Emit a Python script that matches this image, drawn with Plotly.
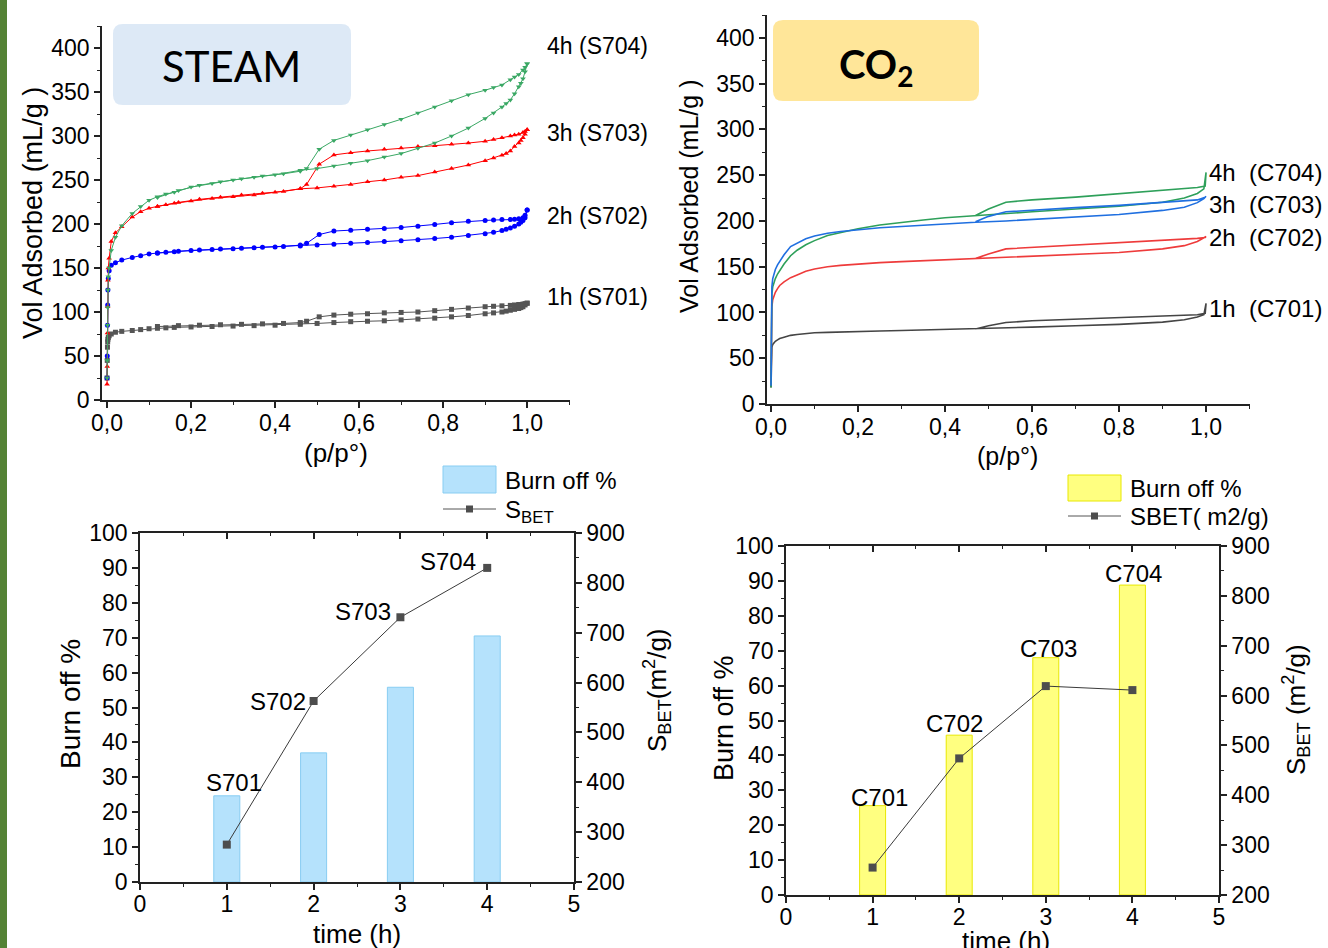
import plotly.graph_objects as go

W, H = 1328, 948
FONT = "Liberation Sans, Arial, sans-serif"

# ---------------- DATA ----------------
# STEAM isotherms (p/p0 grid for adsorption and desorption branches)
P_ADS_S = [0.0, 0.0005, 0.001, 0.0015, 0.002,
           0.003, 0.005, 0.01, 0.02, 0.035,
           0.06, 0.08, 0.10, 0.12, 0.14,
           0.16, 0.20, 0.25, 0.30, 0.35,
           0.40, 0.46, 0.50, 0.54, 0.58,
           0.62, 0.66, 0.70, 0.74, 0.78,
           0.82, 0.86, 0.90, 0.92, 0.94,
           0.95, 0.96, 0.97, 0.98, 0.985,
           0.99, 0.995, 1.0]
P_DES_S = [1.0, 0.995, 0.99, 0.98, 0.97,
           0.96, 0.94, 0.92, 0.90, 0.86,
           0.82, 0.78, 0.74, 0.70, 0.66,
           0.62, 0.58, 0.54, 0.505, 0.475,
           0.46, 0.42, 0.37, 0.32, 0.27,
           0.22, 0.17, 0.12]

S701_ADS = [25, 45, 60, 66, 69,
            71, 73, 75, 77, 78,
            79, 80, 81, 81.5, 82,
            82.5, 83, 83.5, 84, 84.5,
            85, 86, 87, 88, 89,
            89.5, 90, 91, 92, 93,
            94.5, 96, 98, 99, 100,
            101, 102, 103, 104, 105,
            106, 108, 110]
S701_DES = [110, 109.5, 109, 108.5, 108,
            107.5, 107, 106.5, 106, 104.5,
            103, 101.5, 100, 99.5, 99,
            98, 97.5, 96.5, 94.5, 89.5,
            88, 87, 86.5, 86, 85.5,
            85, 84.5, 83.5]

S702_ADS = [25, 50, 85, 108, 125,
            138, 147, 153, 156, 159,
            162, 164, 166, 167, 168,
            168.5, 170, 171, 172, 173,
            174, 175, 176, 177, 178,
            179, 180, 181, 182, 183.5,
            185, 187, 189, 190.5, 192.5,
            194, 195.5, 197.5, 200, 202,
            204, 207, 216]
S702_DES = [216, 210, 207, 206, 205.5,
            205, 205, 204.5, 204, 203,
            201.5, 199.5, 197.5, 196, 195,
            194, 193, 192, 188, 178,
            176, 174.5, 173.5, 172.5, 171.5,
            170.5, 169, 167]

S703_ADS = [18, 38, 76, 106, 136,
            150, 161, 180, 190, 197,
            208, 214, 218, 220, 222,
            223.5, 226, 229, 231, 233,
            236, 240, 241, 243, 245,
            248, 250, 253, 255, 259,
            263, 267, 272, 275, 278,
            280, 283, 288, 292, 295,
            298, 302, 307]
S703_DES = [307, 305, 304, 302, 301,
            300, 298, 296, 294, 292,
            290.5, 289, 288, 286.5, 285,
            283, 281, 278.5, 268, 245,
            240, 237, 235, 233, 230.5,
            228, 224.5, 220]

S704_ADS = [25, 45, 85, 105, 125,
            140, 150, 170, 185, 198,
            212, 220, 227, 231, 234,
            236, 242, 246, 250, 253,
            256, 261, 263, 266, 269,
            272, 276, 280, 286, 292,
            300, 309, 320, 326, 333,
            337, 341, 348, 356, 360,
            365, 373, 382]
S704_DES = [382, 378, 375, 370, 367,
            364, 358, 355, 352, 347,
            340, 333, 326, 319, 313,
            307, 301, 295, 285, 263,
            260, 257, 254.5, 251.5, 248,
            244, 238, 230]

# CO2 isotherms
P_ADS_C = [0.0, 0.0005, 0.001, 0.002, 0.004,
           0.007, 0.01, 0.015, 0.02, 0.03,
           0.045, 0.06, 0.08, 0.1, 0.13,
           0.16, 0.2, 0.25, 0.3, 0.35,
           0.4, 0.47, 0.54, 0.6, 0.7,
           0.8, 0.9, 0.95, 0.98, 0.995, 1.0]
P_DES_C = [1.0, 0.998, 0.98, 0.9, 0.8, 0.7, 0.6, 0.54, 0.5, 0.47]

C701_ADS = [18, 40, 55, 62, 65,
            67, 68.5, 70, 71.5, 73,
            75, 76, 77, 77.8, 78.3,
            78.8, 79.3, 79.8, 80.3, 80.8,
            81.3, 82, 83, 84, 85.5,
            87, 89.5, 92, 95, 97.5, 110]
C701_DES = [110, 99, 97.5, 96, 94, 92.5, 91, 89, 85.5, 82]

C702_ADS = [20, 60, 90, 106, 114,
            119, 122, 126, 129.5, 133.5,
            138, 141, 145, 147.5, 150,
            151.5, 153, 154.5, 155.5, 156.5,
            157.5, 159, 160.5, 161.5, 163,
            165.5, 169.5, 173, 177.5, 181, 183]
C702_DES = [183, 182, 181, 179, 176.5, 174, 171.5, 169.5, 164, 159]

C703_ADS = [20, 70, 105, 128, 137,
            143, 147, 152, 156, 163,
            172, 176, 180.5, 183.5, 186.5,
            188.5, 190.5, 192.5, 194, 195.5,
            197, 198.5, 200, 201.5, 204,
            207, 211.5, 215, 220, 224.5, 227]
C703_DES = [227, 226, 223, 220, 217, 214.5, 212, 210, 205, 199]

C704_ADS = [18, 60, 95, 120, 128,
            133, 137, 142, 146, 153,
            162, 168, 174, 178.5, 184,
            187.5, 191.5, 195.5, 198.5, 201,
            203.5, 205.5, 208, 210, 213,
            216, 220.5, 225, 230, 235, 253]
C704_DES = [253, 238, 236.5, 233.5, 229.5, 226, 223, 220.5, 213, 206]

# Burn-off / S_BET
TIME_H = [1, 2, 3, 4]
BURN_STEAM = [24.7, 37.0, 55.8, 70.5]
SBET_STEAM = [275, 563, 731, 830]
NAMES_STEAM = ["S701", "S702", "S703", "S704"]
BURN_CO2 = [25.6, 45.8, 68.0, 88.8]
SBET_CO2 = [255, 474, 619, 611]
NAMES_CO2 = ["C701", "C702", "C703", "C704"]

ISO_TICKS = [0, 0.2, 0.4, 0.6, 0.8, 1.0]
ISO_TICKTEXT = ["0,0", "0,2", "0,4", "0,6", "0,8", "1,0"]
STEAM_LABELS = ["4h (S704)", "3h (S703)", "2h (S702)", "1h (S701)"]
CO2_LABELS = ["4h  (C704)", "3h  (C703)", "2h  (C702)", "1h  (C701)"]

# ---------------- helpers ----------------
def fx(px):
    return px / W

def fy(py):
    return 1 - py / H

def rrect(x0, y0, x1, y1, r):
    def P(x, y):
        return f"{fx(x):.5f},{fy(y):.5f}"
    return (f"M {P(x0 + r, y0)} L {P(x1 - r, y0)} Q {P(x1, y0)} {P(x1, y0 + r)} "
            f"L {P(x1, y1 - r)} Q {P(x1, y1)} {P(x1 - r, y1)} "
            f"L {P(x0 + r, y1)} Q {P(x0, y1)} {P(x0, y1 - r)} "
            f"L {P(x0, y0 + r)} Q {P(x0, y0)} {P(x0 + r, y0)} Z")

fig = go.Figure()

# ---------------- STEAM isotherms ----------------
steam_series = [
    (S701_ADS, S701_DES, "#555555", "square"),
    (S702_ADS, S702_DES, "#0000ff", "circle"),
    (S703_ADS, S703_DES, "#ff0000", "triangle-up"),
    (S704_ADS, S704_DES, "#3aa864", "triangle-down"),
]
for ads, des, col, sym in steam_series:
    fig.add_trace(go.Scatter(
        x=P_ADS_S + P_DES_S, y=ads + des, xaxis="x", yaxis="y",
        mode="lines+markers", line=dict(color=col, width=1),
        marker=dict(symbol=sym, size=5, color=col), showlegend=False))

# ---------------- CO2 isotherms ----------------
co2_series = [
    (C701_ADS, C701_DES, "#454545"),
    (C702_ADS, C702_DES, "#ee3b3b"),
    (C704_ADS, C704_DES, "#2ea05a"),
    (C703_ADS, C703_DES, "#1f6fe0"),
]
for ads, des, col in co2_series:
    fig.add_trace(go.Scatter(
        x=P_ADS_C + P_DES_C, y=ads + des, xaxis="x2", yaxis="y2",
        mode="lines", line=dict(color=col, width=1.6), showlegend=False))

# ---------------- STEAM bars ----------------
fig.add_trace(go.Bar(x=TIME_H, y=BURN_STEAM, width=0.3, xaxis="x3", yaxis="y3",
                     marker=dict(color="#b5e2fc", line=dict(color="#88cdf2", width=1)),
                     showlegend=False))
fig.add_trace(go.Scatter(x=TIME_H, y=SBET_STEAM, xaxis="x3", yaxis="y4",
                         mode="lines+markers", line=dict(color="#3a3a3a", width=1),
                         marker=dict(symbol="square", size=8, color="#4d4d4d"),
                         showlegend=False))

# ---------------- CO2 bars ----------------
fig.add_trace(go.Bar(x=TIME_H, y=BURN_CO2, width=0.3, xaxis="x4", yaxis="y5",
                     marker=dict(color="#ffff80", line=dict(color="#e8e800", width=1)),
                     showlegend=False))
fig.add_trace(go.Scatter(x=TIME_H, y=SBET_CO2, xaxis="x4", yaxis="y6",
                         mode="lines+markers", line=dict(color="#3a3a3a", width=1),
                         marker=dict(symbol="square", size=8, color="#4d4d4d"),
                         showlegend=False))

# dummy traces for top tick axes
fig.add_trace(go.Scatter(x=[None], y=[None], xaxis="x5", yaxis="y3", showlegend=False, hoverinfo="skip"))
fig.add_trace(go.Scatter(x=[None], y=[None], xaxis="x6", yaxis="y5", showlegend=False, hoverinfo="skip"))

TICKF = dict(family=FONT, size=23, color="black")
LINE = dict(showline=True, linecolor="#222222", linewidth=1.5, showgrid=False, zeroline=False,
            ticks="outside", ticklen=6, tickwidth=1.5, tickcolor="#222222", tickfont=TICKF,
            automargin=False)

def minor(dt, direction="outside"):
    return dict(dtick=dt, ticks=direction, ticklen=3.5, tickwidth=1.2, tickcolor="#222222", showgrid=False)

TOP = dict(showline=True, linecolor="#222222", linewidth=1.5, showgrid=False,
           zeroline=False, ticks="inside", ticklen=6, tickwidth=1.5, tickcolor="#222222",
           dtick=1, showticklabels=False, minor=minor(0.5, "inside"), automargin=False)

layout = dict(
    width=W, height=H, margin=dict(l=0, r=0, t=0, b=0, pad=0, autoexpand=False),
    paper_bgcolor="white", plot_bgcolor="rgba(0,0,0,0)",
    font=dict(family=FONT, color="black"),
    showlegend=False,
    # STEAM isotherm
    xaxis=dict(domain=[fx(102), fx(570)], range=[-0.012, 1.102], anchor="y",
               tickvals=ISO_TICKS, ticktext=ISO_TICKTEXT, minor=minor(0.1),
               ticklabelstandoff=-4, **LINE),
    yaxis=dict(domain=[fy(400), fy(26)], range=[0, 425], anchor="x",
               dtick=50, minor=minor(25), **LINE),
    # CO2 isotherm
    xaxis2=dict(domain=[fx(767), fx(1250)], range=[-0.0092, 1.101], anchor="y2",
                tickvals=ISO_TICKS, ticktext=ISO_TICKTEXT, minor=minor(0.1),
                ticklabelstandoff=-4, **LINE),
    yaxis2=dict(domain=[fy(404), fy(15)], range=[0, 425], anchor="x2",
                dtick=50, minor=minor(25), **LINE),
    # STEAM bars
    xaxis3=dict(domain=[fx(140), fx(574)], range=[0, 5], anchor="y3",
                dtick=1, minor=minor(0.5), ticklabelstandoff=-5, **LINE),
    yaxis3=dict(domain=[fy(882), fy(533)], range=[0, 100], anchor="x3",
                dtick=10, minor=minor(5), **LINE),
    yaxis4=dict(domain=[fy(882), fy(533)], range=[200, 900], anchor="x3", overlaying="y3",
                side="right", dtick=100, minor=minor(50), **LINE),
    xaxis5=dict(domain=[fx(140), fx(574)], range=[0, 5], anchor="y3", overlaying="x3",
                side="top", **TOP),
    # CO2 bars
    xaxis4=dict(domain=[fx(786), fx(1219)], range=[0, 5], anchor="y5",
                dtick=1, minor=minor(0.5), ticklabelstandoff=-5, **LINE),
    yaxis5=dict(domain=[fy(895), fy(546)], range=[0, 100], anchor="x4",
                dtick=10, minor=minor(5), **LINE),
    yaxis6=dict(domain=[fy(895), fy(546)], range=[200, 900], anchor="x4", overlaying="y5",
                side="right", dtick=100, minor=minor(50), **LINE),
    xaxis6=dict(domain=[fx(786), fx(1219)], range=[0, 5], anchor="y5", overlaying="x4",
                side="top", **TOP),
)
fig.update_layout(**layout)

shapes = []
# left green strip
shapes.append(dict(type="rect", xref="paper", yref="paper", x0=0, x1=fx(7), y0=0, y1=1,
                   fillcolor="#548235", line=dict(width=0), layer="below"))
# title boxes
shapes.append(dict(type="path", xref="paper", yref="paper", path=rrect(113, 24, 351, 105, 10),
                   fillcolor="#dde9f6", line=dict(width=0), layer="below"))
shapes.append(dict(type="path", xref="paper", yref="paper", path=rrect(773, 20, 979, 101, 10),
                   fillcolor="#ffe699", line=dict(width=0), layer="below"))
# STEAM legend
shapes.append(dict(type="rect", xref="paper", yref="paper", x0=fx(443), x1=fx(496), y0=fy(493), y1=fy(466),
                   fillcolor="#b5e2fc", line=dict(color="#88cdf2", width=1)))
shapes.append(dict(type="line", xref="paper", yref="paper", x0=fx(443), x1=fx(496), y0=fy(509), y1=fy(509),
                   line=dict(color="#555555", width=1)))
shapes.append(dict(type="rect", xref="paper", yref="paper", x0=fx(466), x1=fx(473), y0=fy(512.5), y1=fy(505.5),
                   fillcolor="#4d4d4d", line=dict(width=0)))
# CO2 legend
shapes.append(dict(type="rect", xref="paper", yref="paper", x0=fx(1068), x1=fx(1121), y0=fy(501), y1=fy(475),
                   fillcolor="#ffff80", line=dict(color="#e8e800", width=1)))
shapes.append(dict(type="line", xref="paper", yref="paper", x0=fx(1068), x1=fx(1121), y0=fy(516), y1=fy(516),
                   line=dict(color="#555555", width=1)))
shapes.append(dict(type="rect", xref="paper", yref="paper", x0=fx(1091), x1=fx(1098), y0=fy(519.5), y1=fy(512.5),
                   fillcolor="#4d4d4d", line=dict(width=0)))
fig.update_layout(shapes=shapes)

ann = []

def T(text, x, y, size=21, xanchor="left", angle=0, family=FONT, **kw):
    ann.append(dict(text=text, x=fx(x), y=fy(y), xref="paper", yref="paper", showarrow=False,
                    xanchor=xanchor, yanchor="middle", textangle=angle,
                    font=dict(family=family, size=size, color="black"), **kw))

# title box texts
T("STEAM", 231, 66, size=42, xanchor="center", family="Lato, Open Sans, sans-serif")
T("<b>CO<sub>2</sub></b>", 876, 66, size=40, xanchor="center", family="Lato, Open Sans, sans-serif")

# isotherm labels
for lab, yy in zip(STEAM_LABELS, [46, 133, 216, 297]):
    T(lab, 545, yy, size=23)
for lab, yy in zip(CO2_LABELS, [173, 204, 238, 309]):
    T(lab, 1207, yy, size=24)

# axis titles
T("Vol Adsorbed (mL/g )", 33, 213, size=27, xanchor="center", angle=-90)
T("(p/p°)", 336, 453, size=26, xanchor="center")
T("Vol Adsorbed (mL/g )", 689, 197, size=25, xanchor="center", angle=-90)
T("(p/p°)", 1007, 456, size=25, xanchor="center")
T("Burn off %", 70, 704, size=28, xanchor="center", angle=-90)
T("time (h)", 357, 934, size=26, xanchor="center")
T("S<sub>BET</sub>(m<sup>2</sup>/g)", 657, 690, size=26, xanchor="center", angle=-90)
T("Burn off %", 724, 718, size=27, xanchor="center", angle=-90)
T("time (h)", 1006, 941, size=26, xanchor="center")
T("S<sub>BET</sub> (m<sup>2</sup>/g)", 1296, 710, size=26, xanchor="center", angle=-90)

# legend texts
T("Burn off %", 503, 480, size=24)
T("S<sub>BET</sub>", 503, 511, size=24)
T("Burn off %", 1128, 488, size=24)
T("SBET( m2/g)", 1128, 516, size=24)

# sample labels on bar charts (data coords)
steam_lab_pos = [(1.08, 28.4), (1.59, 51.6), (2.57, 77.4), (3.55, 91.7)]
for name, (xx, yy) in zip(NAMES_STEAM, steam_lab_pos):
    ann.append(dict(text=name, x=xx, y=yy, xref="x3", yref="y3", showarrow=False,
                    xanchor="center", yanchor="middle", font=dict(family=FONT, size=24, color="black")))
co2_lab_pos = [(1.085, 27.8), (1.95, 49.0), (3.03, 70.5), (4.01, 92.0)]
for name, (xx, yy) in zip(NAMES_CO2, co2_lab_pos):
    ann.append(dict(text=name, x=xx, y=yy, xref="x4", yref="y5", showarrow=False,
                    xanchor="center", yanchor="middle", font=dict(family=FONT, size=24, color="black")))

fig.update_layout(annotations=ann)
fig.write_html(
    "out.html",
    config={"displayModeBar": False},
    post_script="document.body.style.margin='0px';document.body.style.padding='0px';"
                "document.documentElement.style.overflow='hidden';",
)
